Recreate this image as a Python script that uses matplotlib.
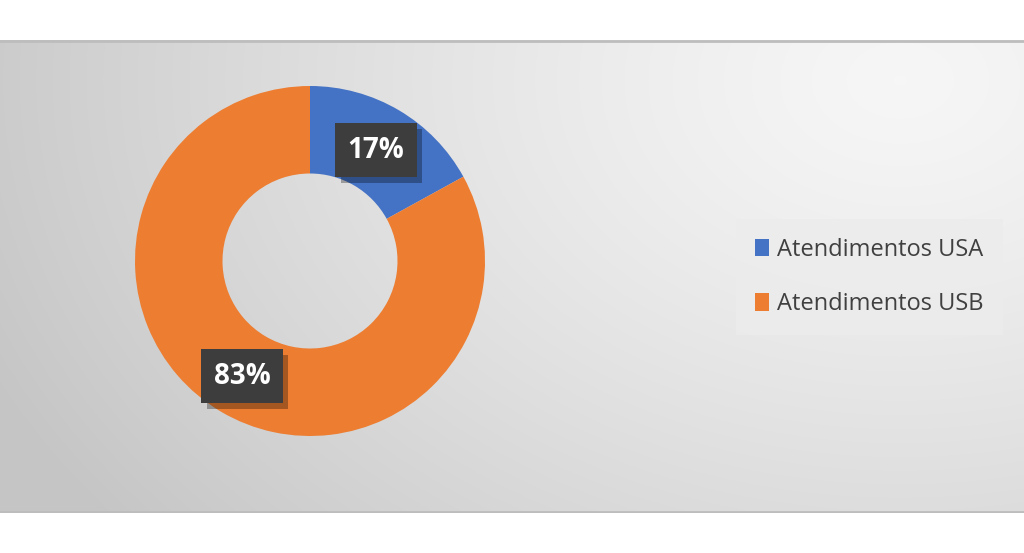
import numpy as np
import matplotlib
matplotlib.use('Agg')
import matplotlib.pyplot as plt
import matplotlib.patheffects as pe
from matplotlib.patches import Patch

# data
labels = ['Atendimentos USA', 'Atendimentos USB']
values = [17, 83]
colors = ['#4472C4', '#ED7D31']

W, H = 1024, 553
fig = plt.figure(figsize=(W / 100, H / 100), dpi=100)
fig.patch.set_facecolor('white')

# chart area background: soft grey gradient, light towards top-right
top, bot = 40, 513
bg = fig.add_axes([0, (H - bot) / H, 1, (bot - top) / H])
yy, xx = np.mgrid[0:bot - top, 0:W]
d = np.sqrt((xx - 900.0) ** 2 + ((yy - 40.0) * 1.4) ** 2)
d = np.clip(d / 1000.0, 0, 1)
grey = 0.965 - 0.19 * d ** 1.3
bg.imshow(np.dstack([grey] * 3), aspect='auto', interpolation='bilinear')
bg.axhline(0.5, color='#bdbdbd', lw=2)
bg.axhline(bot - top - 1.5, color='#bdbdbd', lw=2)
bg.set_axis_off()

# donut
ax = fig.add_axes([0, 0, 1, 1])
cx, cy, r = 310, H - 261, 175
wedges, _ = ax.pie(values, colors=colors, startangle=90, counterclock=False,
                   radius=r, center=(cx, cy), frame=True,
                   wedgeprops=dict(width=r * 0.5, linewidth=0))
ax.set_xlim(0, W)
ax.set_ylim(0, H)
ax.set_aspect('equal')
ax.set_axis_off()

# data labels
pos = [(376, H - 150), (242, H - 376)]
for (x, y), v in zip(pos, values):
    t = ax.text(x, y, f'{v}%', fontsize=20, fontweight='bold', color='white',
                ha='center', va='center', family='Open Sans',
                bbox=dict(boxstyle='square,pad=0.45', fc='#3d3d3d', ec='none'))
    t.get_bbox_patch().set_path_effects(
        [pe.SimplePatchShadow(offset=(4, -4), shadow_rgbFace='black', alpha=0.3), pe.Normal()])

# legend
handles = [Patch(facecolor=c, edgecolor='none') for c in colors]
leg = fig.legend(handles, labels, loc='center left', bbox_to_anchor=(724 / W, 1 - 277 / H),
                 frameon=True, fancybox=False, handlelength=0.6, handleheight=0.75,
                 handletextpad=0.35, labelspacing=1.3, borderpad=0.8,
                 prop=dict(family='Open Sans', size=17))
leg.get_frame().set_facecolor('#ececec')
leg.get_frame().set_edgecolor('none')
leg.get_frame().set_alpha(0.8)
for t in leg.get_texts():
    t.set_color('#404040')

fig.savefig('out.png', dpi=100)
